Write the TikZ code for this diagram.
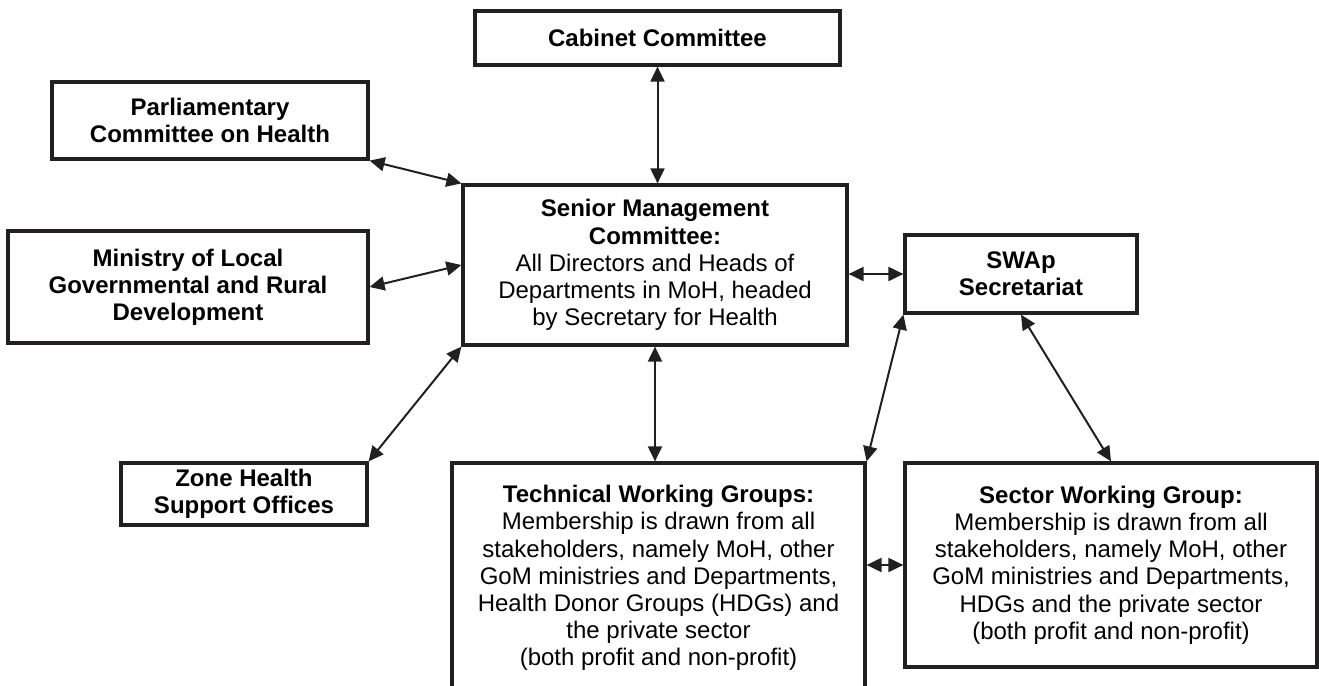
\documentclass[tikz,border=0pt]{standalone}
\usepackage{fontspec}
\setmainfont{Liberation Sans}
\usetikzlibrary{arrows.meta}
\definecolor{cline}{HTML}{231F20}
\tikzset{
  every picture/.style={font=\fontsize{12}{13.6}\selectfont},
  box/.style={draw=cline, line width=1.6pt, align=center, inner sep=2pt},
  arrow/.style={{Triangle[length=7.5pt, width=7pt]}-{Triangle[length=7.5pt, width=7pt]}, draw=cline, line width=1pt},
}

\begin{document}
\begin{tikzpicture}[x=0.5pt, y=-0.5pt]
  \clip (0,0) rectangle (1319,686);
  % top and left column
  \node[box, minimum width=182.5pt, minimum height=27pt] (cabinet) at (657.5,38) {\textbf{Cabinet Committee}};
  \node[box, minimum width=158pt, minimum height=38.5pt] (parl) at (210,120.5) {\textbf{Parliamentary}\\ \textbf{Committee on Health}};
  \node[box, minimum width=180pt, minimum height=56pt] (ministry) at (188,287) {\textbf{Ministry of Local}\\ \textbf{Governmental and Rural}\\ \textbf{Development}};
  \node[box, minimum width=123pt, minimum height=31pt] (zone) at (244,494) {\textbf{Zone Health}\\ \textbf{Support Offices}};
  % middle and right
  \node[box, minimum width=192pt, minimum height=80pt] (smc) at (655,265) {\textbf{Senior Management}\\ \textbf{Committee:}\\ All Directors and Heads of\\ Departments in MoH, headed\\ by Secretary for Health};
  \node[box, minimum width=116pt, minimum height=39pt] (swap) at (1021,274) {\textbf{SWAp}\\ \textbf{Secretariat}};
  \node[box, minimum width=206.5pt, minimum height=115pt] (twg) at (658.5,578) {\textbf{Technical Working Groups:}\\ Membership is drawn from all\\ stakeholders, namely MoH, other\\ GoM ministries and Departments,\\ Health Donor Groups (HDGs) and\\ the private sector\\ (both profit and non-profit)};
  \node[box, minimum width=206pt, minimum height=102pt] (swg) at (1111,565) {\textbf{Sector Working Group:}\\ Membership is drawn from all\\ stakeholders, namely MoH, other\\ GoM ministries and Departments,\\ HDGs and the private sector\\ (both profit and non-profit)};
  % links
  \draw[arrow] (cabinet.south) -- (cabinet.south |- smc.north);
  \draw[arrow] (parl.south east) -- (smc.north west);
  \draw[arrow] (ministry.east) -- (smc.west);
  \draw[arrow] (zone.north east) -- (smc.south west);
  \draw[arrow] (smc.east |- swap.west) -- (swap.west);
  \draw[arrow] (smc.south) -- (smc.south |- twg.north);
  \draw[arrow] (swap.south west) -- (twg.north east);
  \draw[arrow] (swap.south) -- (swg.north);
  \draw[arrow] (twg.east |- swg.west) -- (swg.west);
\end{tikzpicture}
\end{document}
